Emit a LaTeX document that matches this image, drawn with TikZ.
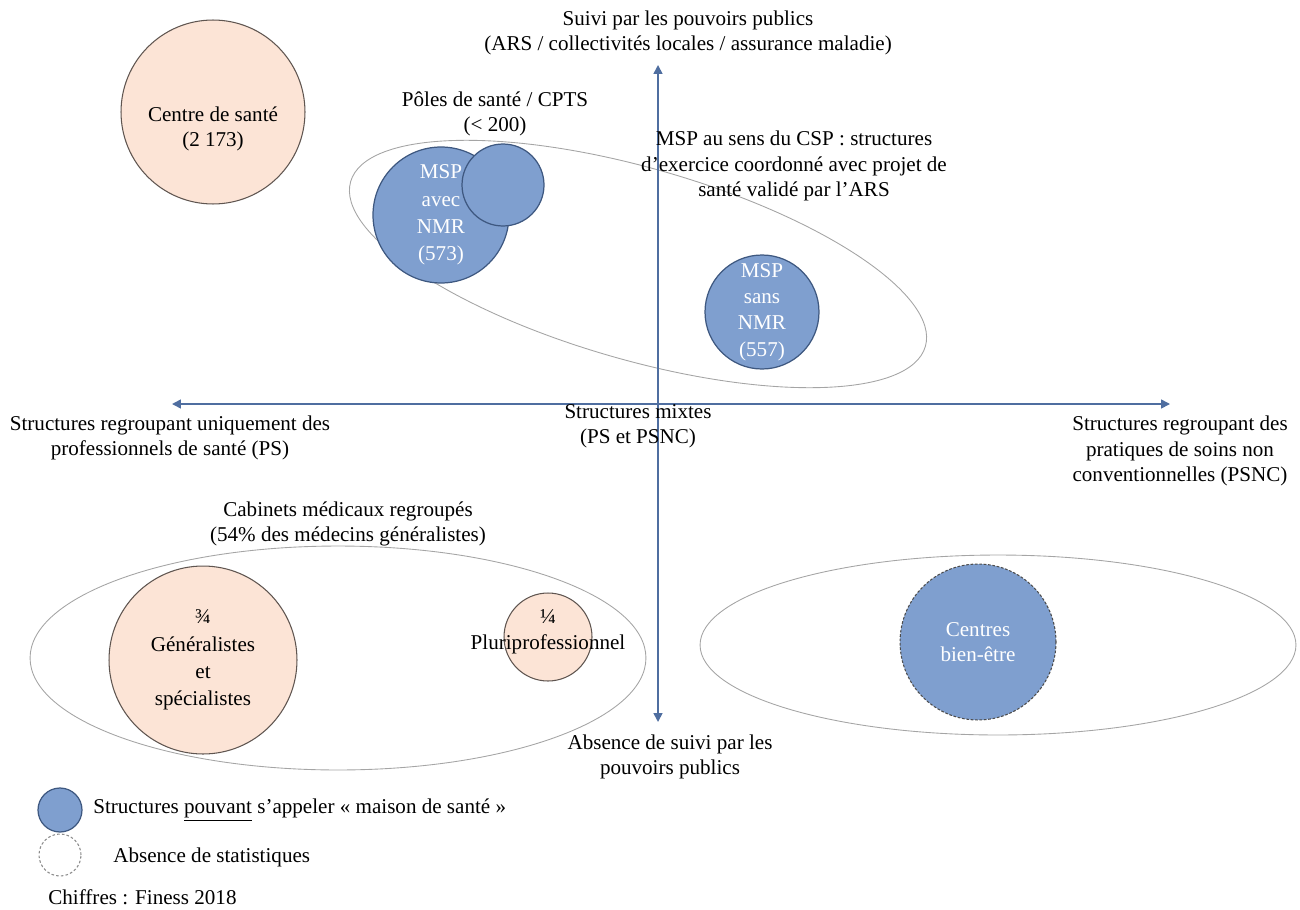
\documentclass[tikz,border=0pt]{standalone}
\usepackage{fontspec}
\setmainfont{Liberation Serif}
\usetikzlibrary{shapes.geometric,arrows.meta}
\definecolor{mspblue}{RGB}{127,159,207}
\definecolor{mspborder}{RGB}{62,88,128}
\definecolor{salmonfill}{RGB}{252,228,214}
\definecolor{salmonborder}{RGB}{95,85,80}
\definecolor{axisblue}{RGB}{79,110,160}
\definecolor{ellipsegray}{RGB}{165,165,165}
\tikzset{
bluecirclev1/.style={circle, draw=mspborder, fill=mspblue, line width=0.7pt, inner sep=0pt, text=white, align=center},
bluecirclev2/.style={circle, draw=black!70, fill=mspblue, line width=0.6pt, dash pattern=on 1.5pt off 1pt, inner sep=0pt, text=white, align=center},
salmoncirclev1/.style={circle, draw=salmonborder, fill=salmonfill, line width=0.6pt, inner sep=0pt, align=center},
dashedcirclev1/.style={circle, draw=black!45, fill=none, line width=0.6pt, dash pattern=on 1.5pt off 1.2pt, inner sep=0pt},
ellipsenodev1/.style={ellipse, draw=ellipsegray, fill=none, line width=0.5pt, inner sep=0pt},
labelnodev1/.style={align=center, inner sep=0pt},
axisarrowv1/.style={draw=axisblue, line width=0.9pt, {Triangle[width=5pt,length=5pt]}-{Triangle[width=5pt,length=5pt]}},
}

\begin{document}
\begin{tikzpicture}[x=0.02cm, y=-0.02cm, font=\fontsize{12}{14.5}\selectfont]
\useasboundingbox (0,0) rectangle (1300,909);

% ellipses
\node[ellipsenodev1, minimum width=11.96cm, minimum height=3.84cm, rotate=-16] at (638,264) (mspzone) {};
\node[ellipsenodev1, minimum width=12.32cm, minimum height=4.48cm] at (338,658) (cabzone) {};
\node[ellipsenodev1, minimum width=11.92cm, minimum height=3.6cm] at (998,645) (bezone) {};

% axes
\coordinate (ytop) at (658,65);
\coordinate (ybot) at (658,722);
\coordinate (xleft) at (172,404);
\coordinate (xright) at (1170,404);
\draw[axisarrowv1] (ybot) -- (ytop);
\draw[axisarrowv1] (xleft) -- (xright);

% axis labels
\node[labelnodev1] at (688,33) (toplabel) {Suivi par les pouvoirs publics\\(ARS / collectivités locales / assurance maladie)};
\node[labelnodev1] at (170,438) (leftlabel) {Structures regroupant uniquement des\\professionnels de santé (PS)};
\node[labelnodev1] at (638,426) (midlabel) {Structures mixtes\\(PS et PSNC)};
\node[labelnodev1] at (1180,451) (rightlabel) {Structures regroupant des\\pratiques de soins non\\conventionnelles (PSNC)};
\node[labelnodev1] at (670,757) (botlabel) {Absence de suivi par les\\pouvoirs publics};

% upper structures
\node[salmoncirclev1, minimum size=3.68cm] at (213,112) (cds) {};
\node[labelnodev1] at (213,129) (cdstext) {Centre de santé\\(2 173)};
\node[bluecirclev1, minimum size=2.72cm, font=\fontsize{12}{15.5}\selectfont] at (441,215) (mspavec) {MSP\\avec\\NMR\\(573)};
\node[bluecirclev1, minimum size=1.64cm] at (503,185) (poles) {};
\node[labelnodev1] at (495,114) (polestext) {Pôles de santé / CPTS\\(< 200)};
\node[bluecirclev1, minimum size=2.28cm, font=\fontsize{12}{15}\selectfont] at (762,312) (mspsans) {MSP\\sans\\NMR\\(557)};
\node[labelnodev1] at (794,166) (msptext) {MSP au sens du CSP : structures\\d’exercice coordonné avec projet de\\santé validé par l’ARS};

% lower structures
\node[labelnodev1] at (348,524) (cabtext) {Cabinets médicaux regroupés\\(54\% des médecins généralistes)};
\node[salmoncirclev1, minimum size=3.76cm, font=\fontsize{12}{15.5}\selectfont] at (203,660) (gensp) {¾\\Généralistes\\et\\spécialistes};
\node[salmoncirclev1, minimum size=1.76cm] at (548,637) (pluri) {};
\node[labelnodev1] at (548,632) (pluritext) {¼\\Pluriprofessionnel};
\node[bluecirclev2, minimum size=3.12cm] at (978,642) (bienetre) {Centres\\bien-être};

% legend
\node[bluecirclev1, minimum size=0.88cm] at (60,810) (legblue) {};
\node[labelnodev1, anchor=west] at (93,810) (legbluetext) {Structures \underline{pouvant} s’appeler « maison de santé »};
\node[dashedcirclev1, minimum size=0.84cm] at (60,855) (legdash) {};
\node[labelnodev1, anchor=west] at (113,857) (legdashtext) {Absence de statistiques};
\node[labelnodev1, anchor=west] at (48,897) (source) {Chiffres : Finess 2018};
\end{tikzpicture}
\end{document}
